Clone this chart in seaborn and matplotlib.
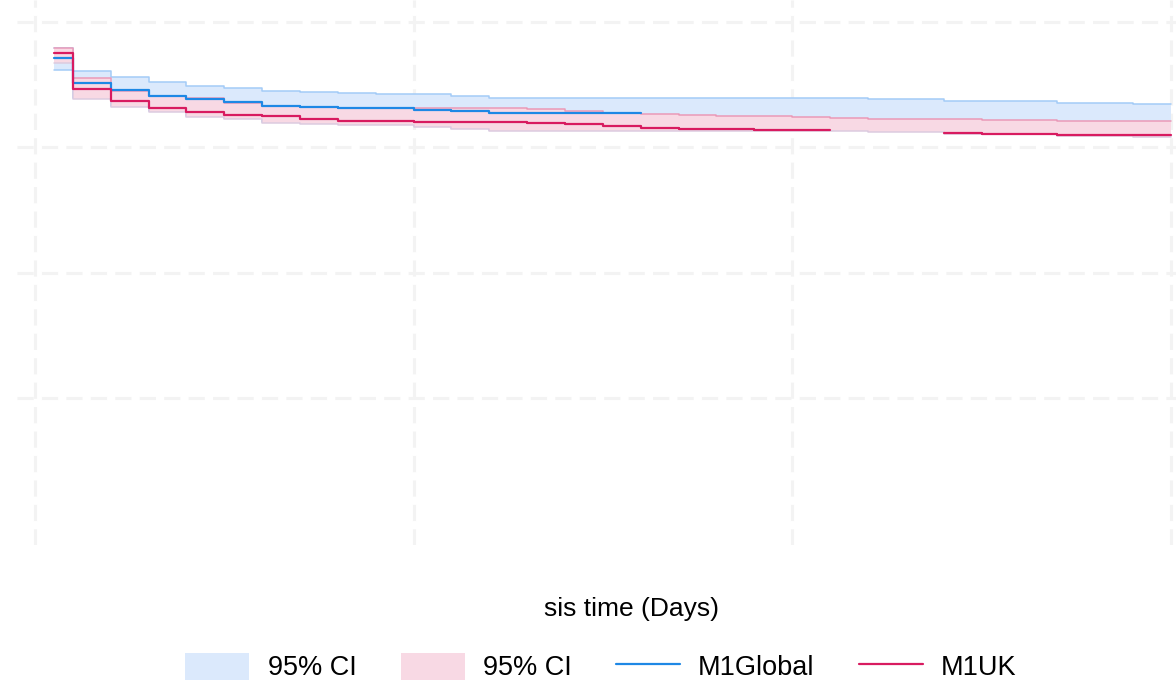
"""
Survival curves M1Global vs M1UK with 95% CI bands
"""

import numpy as np
import pandas as pd
import matplotlib
matplotlib.use("Agg")
import matplotlib.pyplot as plt
import seaborn as sns
from matplotlib.patches import Patch
from matplotlib.lines import Line2D

# step start times (segment s covers [times[s], times[s+1]))
times = [0.5, 1, 2, 3, 4, 5, 6, 7, 8, 9, 10, 11, 12, 13, 14, 15, 16, 17, 18, 19,
         20, 21, 22, 23, 24, 25, 26, 27, 28, 29]
t_end = 30

# M1Global estimate (ends at t = 16)
global_surv = [0.928, 0.877, 0.864, 0.852, 0.845, 0.839, 0.832, 0.829, 0.827, 0.827,
               0.824, 0.822, 0.818, 0.818, 0.818, 0.818]
global_upper = [0.947, 0.902, 0.889, 0.880, 0.872, 0.868, 0.861, 0.859, 0.857, 0.856,
                0.855, 0.852, 0.848, 0.848, 0.848, 0.848, 0.848, 0.848, 0.848, 0.848,
                0.848, 0.848, 0.846, 0.846, 0.842, 0.841, 0.841, 0.837, 0.837, 0.835]
global_lower = [0.903, 0.847, 0.832, 0.822, 0.811, 0.808, 0.800, 0.797, 0.796, 0.796,
                0.791, 0.788, 0.783, 0.783, 0.783, 0.783, 0.783, 0.783, 0.783, 0.783,
                0.783, 0.783, 0.781, 0.781, 0.778, 0.777, 0.777, 0.773, 0.773, 0.771]

# M1UK estimate (not drawn for t in [21, 24))
uk_surv = [0.937, 0.865, 0.842, 0.827, 0.820, 0.814, 0.811, 0.805, 0.802, 0.802,
           0.800, 0.800, 0.800, 0.798, 0.795, 0.792, 0.788, 0.786, 0.786, 0.784,
           0.783, np.nan, np.nan, np.nan, 0.778, 0.776, 0.776, 0.774, 0.774, 0.774]
uk_upper = [0.947, 0.887, 0.862, 0.852, 0.847, 0.838, 0.831, 0.829, 0.827, 0.827,
            0.827, 0.827, 0.827, 0.825, 0.822, 0.818, 0.815, 0.814, 0.812, 0.811,
            0.810, 0.808, 0.805, 0.805, 0.805, 0.803, 0.803, 0.802, 0.802, 0.801]
uk_lower = [0.918, 0.845, 0.830, 0.820, 0.809, 0.806, 0.798, 0.795, 0.794, 0.794,
            0.789, 0.786, 0.781, 0.781, 0.781, 0.781, 0.781, 0.781, 0.781, 0.781,
            0.781, 0.781, 0.779, 0.779, 0.776, 0.775, 0.775, 0.771, 0.771, 0.769]

x_ticks = [0, 10, 20, 30]
y_ticks = [0.25, 0.5, 0.75, 1.0]

BLUE = "#1e88e5"
RED = "#d81b60"
BLUE_FILL = "#dbe9fc"
RED_FILL = "#f8d9e4"


def close(vals):
    """repeat last value at the end time so the last step is drawn"""
    return list(vals) + [vals[-1]]


# long table for the estimate lines, split where the line is missing
rows = []
for i, v in enumerate(global_surv):
    rows.append(("M1Global", 0, times[i], v))
rows.append(("M1Global", 0, times[len(global_surv)], global_surv[-1]))
piece = 0
t_all = times + [t_end]
for i, v in enumerate(uk_surv):
    if np.isnan(v):
        if i > 0 and not np.isnan(uk_surv[i - 1]):
            rows.append(("M1UK", piece, times[i], uk_surv[i - 1]))
            piece += 1
        continue
    rows.append(("M1UK", piece, times[i], v))
rows.append(("M1UK", piece, t_end, uk_surv[-1]))
df = pd.DataFrame(rows, columns=["model", "piece", "time", "surv"])

sns.set_theme(style="white")
plt.rcParams["font.family"] = ["Liberation Sans", "DejaVu Sans"]
plt.rcParams["text.color"] = "black"

fig = plt.figure(figsize=(11.76, 6.81), dpi=100)
ax = fig.add_axes([17 / 1176, 136 / 681, 1159 / 1176, 545 / 681])

tt = np.array(t_all, dtype=float)

# CI bands
ax.fill_between(tt, close(global_lower), close(global_upper), step="post",
                color=BLUE_FILL, lw=0, zorder=1)
ax.plot(tt, close(global_upper), drawstyle="steps-post", color="#a3cbf7", lw=1.1, zorder=2)
ax.plot(tt, close(global_lower), drawstyle="steps-post", color="#a3cbf7", lw=1.1, zorder=2)
ax.fill_between(tt, close(uk_lower), close(uk_upper), step="post",
                color=RED_FILL, lw=0, zorder=3)
ax.plot(tt, close(uk_upper), drawstyle="steps-post", color="#ea9ab8", lw=1.1, zorder=4)
ax.plot(tt, close(uk_lower), drawstyle="steps-post", color="#dccbe0", lw=1.1, zorder=4)

# estimates
sns.lineplot(data=df, x="time", y="surv", hue="model", units="piece", estimator=None,
             palette={"M1Global": BLUE, "M1UK": RED}, drawstyle="steps-post",
             lw=1.6, legend=False, ax=ax, zorder=5)

ax.set_xlim((17 - 35) / 37.86, (1176 - 35) / 37.86)
ax.set_ylim((523.5 - 545) / 502, 523.5 / 502)
ax.set_xticks(x_ticks)
ax.set_yticks(y_ticks)
ax.set_xticklabels([])
ax.set_yticklabels([])
ax.tick_params(length=0)
ax.set_xlabel("")
ax.set_ylabel("")
for sp in ax.spines.values():
    sp.set_visible(False)
ax.set_axisbelow(True)
ax.grid(True, color="#f3f3f3", lw=2.2, linestyle=(0, (5.3, 2.7)))
ax.set_facecolor("white")

fig.text(632 / 1176, (681 - 616) / 681, "sis time (Days)", ha="center",
         va="baseline", fontsize=19, color="black")

handles = [
    Patch(facecolor=BLUE_FILL, edgecolor="none"),
    Patch(facecolor=RED_FILL, edgecolor="none"),
    Line2D([], [], color=BLUE, lw=1.6),
    Line2D([], [], color=RED, lw=1.6),
]
labels = ["95% CI", "95% CI", "M1Global", "M1UK"]
leg = fig.legend(handles, labels, loc="center", bbox_to_anchor=(601 / 1176, 14 / 681),
                 ncol=4, frameon=False, fontsize=19.5, handlelength=2.37,
                 handleheight=1.15, handletextpad=0.67, columnspacing=1.63,
                 borderpad=0, borderaxespad=0)
for txt in leg.get_texts():
    txt.set_color("black")

fig.savefig("out.png", dpi=100, facecolor="white")
